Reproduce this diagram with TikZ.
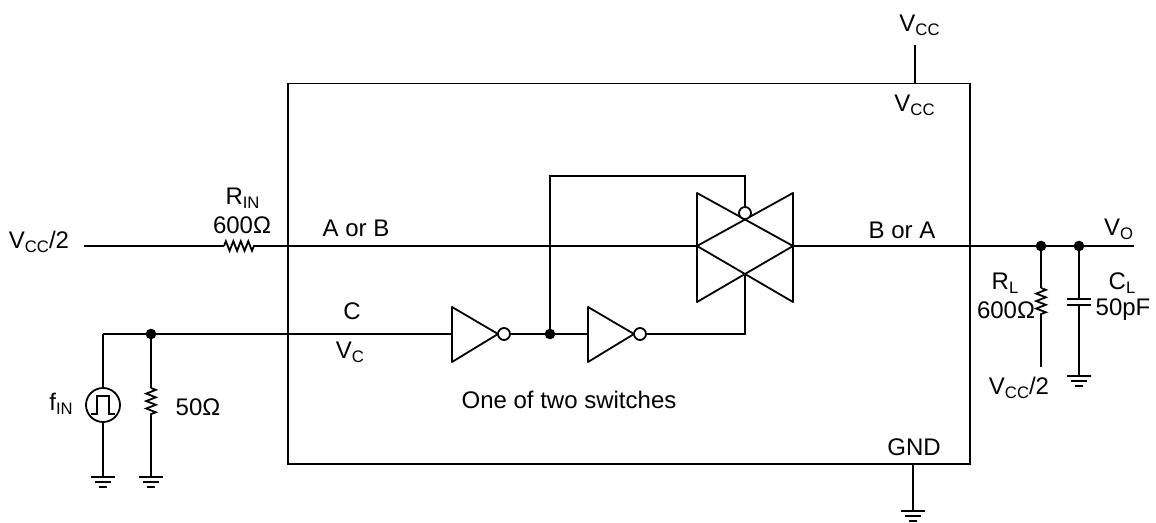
\documentclass[tikz,border=0pt]{standalone}
\usepackage{fontspec}
\setmainfont{Liberation Sans}
\usetikzlibrary{positioning,calc,decorations.pathmorphing}
\newcommand{\lowsub}[1]{\raisebox{-0.3ex}{\fontsize{12.5}{14}\selectfont #1}}
\begin{document}
\begin{tikzpicture}[
    x=0.75pt, y=-0.75pt,
    line width=1.35pt,
    lbl/.style={inner sep=0pt, font=\fontsize{18}{20}\selectfont},
    bubble/.style={draw, circle, fill=white, minimum size=9pt, inner sep=0pt},
    jdot/.style={draw, circle, fill=black, minimum size=6.5pt, inner sep=0pt},
    res/.style={decorate, decoration={zigzag, segment length=5.6pt, amplitude=3.6pt}},
    gnd/.pic={
        \draw (-12,0) -- (12,0);
        \draw (-8,5) -- (8,5);
        \draw (-4,10) -- (4,10);
    }
]
    \useasboundingbox (0,0) rectangle (1156,523);

    % Chip outline
    \node [draw, rectangle, outer sep=0pt, minimum width=511.5pt, minimum height=285.4pt, anchor=north west] (chip) at (288,83.5) {};

    % Supply and ground of the chip
    \coordinate (vcctop) at (915,45);
    \coordinate (vccin) at (915,83.5);
    \coordinate (gndin) at (913,464);
    \coordinate (gndout) at (913,511);
    \draw (vcctop) -- (vccin);
    \draw (gndin) -- (gndout);
    \pic at (gndout) {gnd};
    \node [lbl] (vcclabel) at (919.5,25.5) {V\lowsub{CC}};
    \node [lbl] (vccpin) at (914.5,105.5) {V\lowsub{CC}};
    \node [lbl] (gndpin) at (914,447) {GND};

    % Signal path
    \coordinate (vhalf) at (84,246);
    \coordinate (rina) at (224,246);
    \coordinate (rinb) at (254,246);
    \coordinate (swl) at (697,246);
    \coordinate (swr) at (793,246);
    \coordinate (vout) at (1134,246);
    \node [lbl] (vhalflabel) at (39,242) {V\lowsub{CC}/2};
    \node [lbl] (rinlabel) at (242.5,198) {R\lowsub{IN}};
    \node [lbl] (rinval) at (242,225) {600Ω};
    \node [lbl] (ainlabel) at (356,228.5) {A or B};
    \node [lbl] (boutlabel) at (902,230) {B or A};
    \node [lbl] (voutlabel) at (1118.5,229) {V\lowsub{O}};
    \draw (vhalf) -- (rina);
    \draw [res] (rina) -- (rinb);
    \draw (rinb) -- (swl);
    \draw (swr) -- (vout);

    % Switch
    \draw [line join=round] (697,193) -- (697,302) -- (swr) -- cycle;
    \draw [line join=round] (793,193) -- (793,302) -- (swl) -- cycle;
    \node [bubble] (swbub) at (745,213) {};
    \coordinate (swb) at (745,274);
    \coordinate (swtop) at (745,176);
    \coordinate (swbot) at (745,334);
    \coordinate (fbtop) at (550,176);

    % Control path
    \coordinate (srcturn) at (103,334);
    \coordinate (inva) at (452,334);
    \coordinate (invb) at (588,334);
    \node [jdot] (jsrc) at (151,334) {};
    \node [jdot] (jctl) at (550,334) {};
    \draw [line join=round] (452,307) -- (452,362) -- (498,334) -- cycle;
    \draw [line join=round] (588,307) -- (588,362) -- (634,334) -- cycle;
    \node [bubble] (bubone) at (504,334) {};
    \node [bubble] (bubtwo) at (640,334) {};
    \draw (srcturn) -- (jsrc) -- (inva);
    \draw (bubone) -- (jctl) -- (invb);
    \draw (bubtwo) -- (swbot) -- (swb);
    \draw (jctl) -- (fbtop) -- (swtop) -- (swbub);
    \node [lbl] (clabel) at (352,311.5) {C};
    \node [lbl] (vclabel) at (350,352) {V\lowsub{C}};
    \node [lbl] (caption) at (569,400) {One of two switches};

    % Pulse source
    \node [draw, circle, minimum size=25.5pt, inner sep=0pt] (src) at (103,405) {};
    \draw (91,414) -- (97,414) -- (97,396) -- (109,396) -- (109,414) -- (115,414);
    \coordinate (srcgnd) at (103,477);
    \draw (srcturn) -- (src);
    \draw (src) -- (srcgnd);
    \pic at (srcgnd) {gnd};
    \node [lbl] (finlabel) at (61,403.5) {f\lowsub{IN}};

    % Input termination
    \coordinate (tera) at (151,388);
    \coordinate (terb) at (151,417);
    \coordinate (tergnd) at (151,477);
    \draw (jsrc) -- (tera);
    \draw [res] (tera) -- (terb);
    \draw (terb) -- (tergnd);
    \pic at (tergnd) {gnd};
    \node [lbl] (terval) at (198,407.5) {50Ω};

    % Load
    \node [jdot] (jrl) at (1041,246) {};
    \node [jdot] (jcl) at (1079,246) {};
    \coordinate (rla) at (1041,288);
    \coordinate (rlb) at (1041,317);
    \coordinate (rlend) at (1041,367);
    \draw (jrl) -- (rla);
    \draw [res] (rla) -- (rlb);
    \draw (rlb) -- (rlend);
    \coordinate (cla) at (1079,299);
    \coordinate (clb) at (1079,305);
    \coordinate (clgnd) at (1079,376);
    \draw (jcl) -- (cla);
    \draw (clb) -- (clgnd);
    \draw (1067,299) -- (1091,299);
    \draw (1067,305) -- (1091,305);
    \pic at (clgnd) {gnd};
    \node [lbl] (rllabel) at (1005,283) {R\lowsub{L}};
    \node [lbl] (rlval) at (1006,310) {600Ω};
    \node [lbl] (cllabel) at (1122,283) {C\lowsub{L}};
    \node [lbl] (clval) at (1123,310) {50pF};
    \node [lbl] (rlvhalf) at (1019,388) {V\lowsub{CC}/2};
\end{tikzpicture}
\end{document}
